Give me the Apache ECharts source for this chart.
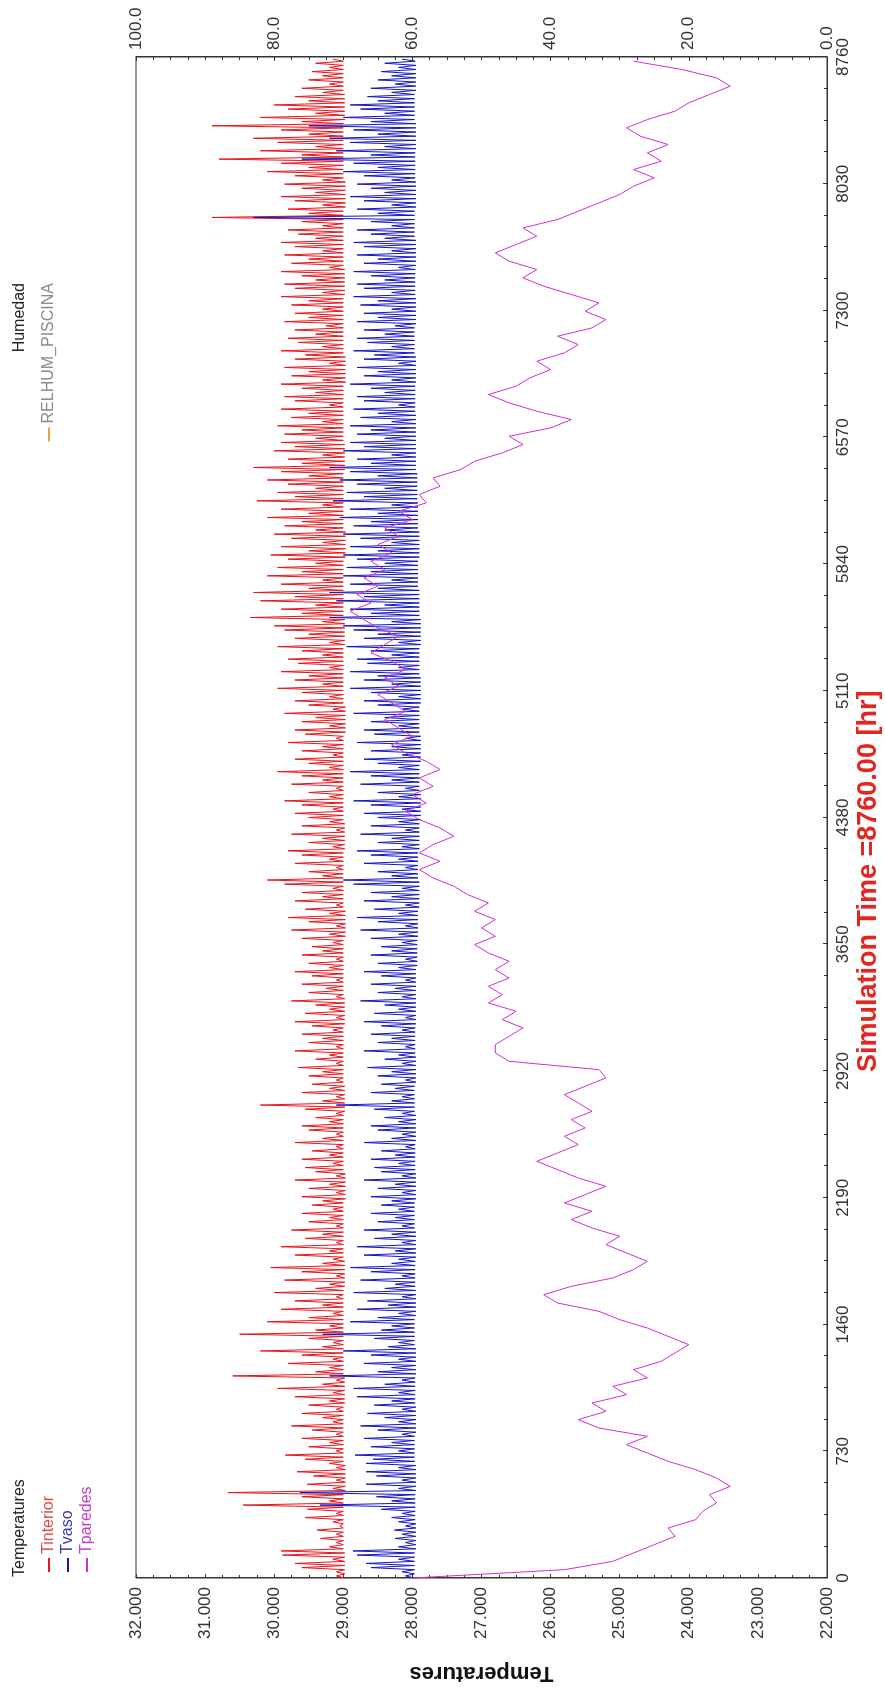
<!DOCTYPE html>
<html>
<head>
<meta charset="utf-8">
<script src="https://cdn.jsdelivr.net/npm/echarts/dist/echarts.min.js"></script>
<style>
  html, body { margin: 0; padding: 0; background: #fff; overflow: hidden; width: 885px; height: 1695px; }
  /* the plot is laid out landscape and turned a quarter turn, as in the source picture */
  #main { position: absolute; left: 0; top: 0; width: 1695px; height: 885px;
          transform-origin: 0 0; transform: translate(0px, 1695px) rotate(-90deg); }
</style>
</head>
<body>
<div id="main"></div>
<script>
// daily peak of Tinterior (one value per day, 365 days)
var tintPeak = [
  29.1, 29.1, 29.6, 29.7, 29.15, 29.88, 29.9, 29.2, 29.1, 29.33,
  29.1, 29.38, 29.05, 29.15, 29.55, 29.1, 29.52, 30.45, 29.2, 29.6,
  30.67, 29.15, 29.52, 29.1, 29.43, 29.67, 29.1, 29.2, 29.55, 29.84,
  29.1, 29.5, 29.2, 29.6, 29.1, 29.45, 29.75, 29.15, 29.3, 29.6,
  29.1, 29.5, 29.2, 29.7, 29.15, 29.95, 29.3, 29.1, 30.6, 29.4,
  29.2, 29.8, 29.15, 29.6, 30.2, 29.3, 29.15, 29.5, 30.5, 29.4,
  29.2, 30.1, 29.5, 29.15, 29.9, 29.3, 29.7, 29.1, 30.0, 29.4,
  29.2, 29.85, 29.1, 29.6, 30.05, 29.3, 29.15, 29.7, 29.2, 29.9,
  29.1, 29.55, 29.3, 29.75, 29.1, 29.5, 29.2, 29.6, 29.15, 29.45,
  29.3, 29.6, 29.1, 29.5, 29.2, 29.7, 29.1, 29.4, 29.55, 29.15,
  29.6, 29.2, 29.45, 29.1, 29.7, 29.3, 29.1, 29.5, 29.6, 29.2,
  29.4, 29.1, 29.55, 30.2, 29.3, 29.1, 29.6, 29.2, 29.45, 29.1,
  29.5, 29.3, 29.65, 29.1, 29.4, 29.2, 29.7, 29.1, 29.5, 29.3,
  29.6, 29.15, 29.45, 29.7, 29.1, 29.55, 29.2, 29.4, 29.75, 29.1,
  29.5, 29.25, 29.6, 29.1, 29.45, 29.7, 29.2, 29.5, 29.1, 29.6,
  29.3, 29.45, 29.15, 29.6, 29.2, 29.75, 29.1, 29.5, 29.8, 29.2,
  29.55, 29.1, 29.7, 29.3, 29.6, 29.15, 29.85, 30.1, 29.3, 29.5,
  29.1, 29.7, 29.2, 29.6, 29.8, 29.15, 29.5, 29.3, 29.75, 29.1,
  29.6, 29.2, 29.5, 29.7, 29.15, 29.6, 29.85, 29.2, 29.5, 29.1,
  29.75, 29.3, 29.6, 29.95, 29.2, 29.5, 29.7, 29.15, 29.6, 29.3,
  29.8, 29.1, 29.55, 29.7, 29.2, 29.6, 29.4, 29.85, 29.15, 29.5,
  29.7, 29.2, 29.6, 29.95, 29.3, 29.7, 29.5, 29.9, 29.2, 29.65,
  29.8, 29.3, 29.6, 29.95, 29.2, 29.7, 29.5, 29.85, 30.0, 29.3,
  30.35, 29.6, 29.9, 29.4, 30.2, 29.7, 30.3, 29.5, 29.9, 29.3,
  30.1, 29.6, 29.95, 29.4, 29.8, 30.05, 29.5, 29.9, 29.3, 29.75,
  30.0, 29.4, 29.85, 29.6, 30.1, 29.5, 29.9, 29.3, 30.25, 29.7,
  29.95, 29.4, 29.8, 30.1, 29.5, 29.9, 30.3, 29.6, 29.8, 29.3,
  30.0, 29.7, 29.9, 29.4, 29.85, 29.6, 29.95, 29.3, 29.75, 29.5,
  29.9, 29.2, 29.7, 29.85, 29.4, 29.6, 29.9, 29.3, 29.75, 29.5,
  29.85, 29.2, 29.7, 29.55, 29.9, 29.3, 29.65, 29.8, 29.4, 29.7,
  29.25, 29.85, 29.5, 29.7, 29.3, 29.75, 29.5, 29.9, 29.3, 29.7,
  29.85, 29.4, 29.6, 29.9, 29.2, 29.75, 29.5, 29.85, 29.3, 29.7,
  29.9, 29.4, 29.65, 29.8, 29.3, 29.6, 30.9, 29.5, 29.8, 29.3,
  29.7, 29.9, 29.4, 29.6, 29.85, 29.3, 29.7, 30.1, 29.5, 29.9,
  30.8, 29.6, 30.2, 29.4, 29.95, 30.3, 29.5, 29.9, 30.9, 29.6,
  30.2, 29.4, 29.8, 30.0, 29.5, 29.7, 29.3, 29.6, 29.2, 29.5,
  29.3, 29.45, 29.2, 29.4, 29.15
];
// weekly floor of Tinterior (53 weeks)
var tintLow = [
  28.98, 29.0, 29.0, 28.97, 29.0, 29.0, 28.98, 29.0, 29.0, 29.0,
  28.98, 29.0, 29.0, 28.97, 29.0, 29.0, 28.98, 29.0, 29.0, 28.98,
  29.0, 29.0, 28.97, 29.0, 29.0, 28.98, 29.0, 29.0, 29.0, 28.97,
  29.0, 29.0, 28.98, 29.0, 29.0, 28.97, 29.0, 29.0, 28.98, 29.0,
  29.0, 28.97, 29.0, 29.0, 28.98, 29.0, 29.0, 28.97, 29.0, 29.0,
  28.98, 29.0, 29.0
];
// daily peak of Tvaso (365 days)
var tvasoPeak = [
  28.1, 28.15, 28.6, 28.67, 28.2, 28.8, 28.86, 28.2, 28.1, 28.25,
  28.15, 28.26, 28.1, 28.2, 28.3, 28.15, 28.45, 29.34, 28.3, 28.52,
  29.63, 28.2, 28.67, 28.15, 28.52, 28.67, 28.2, 28.67, 28.57, 28.83,
  28.2, 28.6, 28.3, 28.7, 28.15, 28.5, 28.75, 28.2, 28.4, 28.65,
  28.15, 28.55, 28.3, 28.8, 28.2, 28.85, 28.4, 28.15, 29.2, 28.5,
  28.3, 28.7, 28.2, 28.6, 29.0, 28.35, 28.2, 28.55, 29.3, 28.45,
  28.3, 28.9, 28.5, 28.2, 28.8, 28.35, 28.65, 28.15, 28.85, 28.4,
  28.25, 28.75, 28.15, 28.6, 28.9, 28.3, 28.2, 28.7, 28.25, 28.8,
  28.15, 28.55, 28.3, 28.7, 28.15, 28.5, 28.25, 28.6, 28.2, 28.45,
  28.3, 28.6, 28.15, 28.5, 28.25, 28.7, 28.15, 28.45, 28.55, 28.2,
  28.6, 28.25, 28.45, 28.1, 28.7, 28.3, 28.15, 28.5, 28.6, 28.2,
  28.4, 28.15, 28.55, 29.1, 28.3, 28.15, 28.6, 28.25, 28.45, 28.1,
  28.5, 28.3, 28.65, 28.15, 28.4, 28.2, 28.7, 28.1, 28.5, 28.3,
  28.6, 28.15, 28.45, 28.7, 28.1, 28.55, 28.2, 28.4, 28.75, 28.15,
  28.5, 28.25, 28.6, 28.1, 28.45, 28.7, 28.2, 28.5, 28.1, 28.6,
  28.3, 28.45, 28.15, 28.6, 28.2, 28.75, 28.1, 28.5, 28.8, 28.2,
  28.55, 28.1, 28.7, 28.3, 28.6, 28.15, 28.85, 29.0, 28.3, 28.5,
  28.1, 28.7, 28.2, 28.6, 28.8, 28.15, 28.5, 28.3, 28.75, 28.1,
  28.6, 28.2, 28.5, 28.7, 28.15, 28.6, 28.85, 28.2, 28.5, 28.1,
  28.75, 28.3, 28.6, 28.9, 28.2, 28.5, 28.7, 28.15, 28.6, 28.3,
  28.8, 28.1, 28.55, 28.7, 28.2, 28.6, 28.4, 28.85, 28.15, 28.5,
  28.7, 28.2, 28.6, 28.9, 28.3, 28.7, 28.5, 28.9, 28.2, 28.65,
  28.8, 28.3, 28.6, 28.95, 28.2, 28.7, 28.5, 28.85, 29.0, 28.3,
  29.2, 28.6, 28.9, 28.4, 29.1, 28.7, 29.2, 28.5, 28.9, 28.3,
  29.0, 28.6, 28.95, 28.4, 28.8, 29.0, 28.5, 28.9, 28.3, 28.75,
  29.0, 28.4, 28.85, 28.6, 29.05, 28.5, 28.9, 28.3, 29.15, 28.7,
  28.95, 28.4, 28.8, 29.05, 28.5, 28.9, 29.2, 28.6, 28.8, 28.3,
  29.0, 28.7, 28.9, 28.4, 28.8, 28.6, 28.9, 28.3, 28.75, 28.5,
  28.85, 28.2, 28.7, 28.8, 28.4, 28.6, 28.9, 28.3, 28.7, 28.5,
  28.8, 28.2, 28.7, 28.55, 28.85, 28.3, 28.65, 28.8, 28.4, 28.7,
  28.25, 28.8, 28.5, 28.7, 28.3, 28.75, 28.5, 28.85, 28.3, 28.7,
  28.8, 28.4, 28.6, 28.85, 28.2, 28.7, 28.5, 28.8, 28.3, 28.7,
  28.85, 28.4, 28.6, 28.8, 28.3, 28.6, 30.3, 28.5, 28.8, 28.3,
  28.7, 28.9, 28.4, 28.6, 28.8, 28.3, 28.7, 29.0, 28.5, 28.85,
  29.6, 28.6, 29.1, 28.4, 28.9, 29.2, 28.5, 28.85, 29.5, 28.6,
  29.0, 28.4, 28.75, 28.9, 28.5, 28.65, 28.3, 28.6, 28.25, 28.5,
  28.3, 28.45, 28.2, 28.4, 28.15
];
// weekly floor of Tvaso (53 weeks)
var tvasoLow = [
  27.97, 27.95, 27.96, 27.95, 27.97, 27.95, 27.96, 27.95, 27.97, 27.95,
  27.96, 27.95, 27.97, 27.95, 27.96, 27.95, 27.97, 27.95, 27.96, 27.95,
  27.95, 27.93, 27.92, 27.9, 27.92, 27.9, 27.88, 27.9, 27.88, 27.9,
  27.88, 27.9, 27.88, 27.9, 27.92, 27.9, 27.92, 27.93, 27.95, 27.95,
  27.96, 27.95, 27.97, 27.95, 27.96, 27.95, 27.97, 27.95, 27.96, 27.95,
  27.97, 27.95, 27.96
];
// Tparedes, one value every 48 h
var tparStep = 48;
var tparedes = [
  28.0, 25.8, 25.1, 24.8, 24.5, 24.2, 24.3, 23.9, 23.8, 23.6,
  23.7, 23.4, 23.6, 23.9, 24.3, 24.6, 24.9, 24.6, 25.3, 25.6,
  25.2, 25.4, 24.9, 25.1, 24.6, 24.8, 24.4, 24.2, 24.0, 24.3,
  24.6, 25.0, 25.3, 25.9, 26.1, 25.7, 25.1, 24.8, 24.6, 24.9,
  25.2, 25.0, 25.4, 25.7, 25.4, 25.8, 25.5, 25.2, 25.6, 25.9,
  26.2, 25.9, 25.6, 25.8, 25.5, 25.7, 25.4, 25.6, 25.8, 25.5,
  25.2, 25.3, 26.6, 26.8, 26.8, 26.6, 26.4, 26.7, 26.5, 26.9,
  26.7, 26.9, 26.6, 26.8, 26.6, 26.9, 27.1, 26.8, 27.0, 26.8,
  27.1, 26.9, 27.2, 27.4, 27.7, 27.9, 27.6, 27.9, 27.7, 27.4,
  27.6, 27.9, 28.1, 27.8, 28.0, 27.7, 27.9, 27.6, 27.8, 28.1,
  28.3, 28.0, 28.2, 28.4, 28.1, 28.3, 28.5, 28.2, 28.4, 28.1,
  28.3, 28.6, 28.4, 28.2, 28.5, 28.7, 28.9, 28.6, 28.8, 28.5,
  28.7, 28.4, 28.6, 28.3, 28.5, 28.2, 28.4, 28.0, 28.2, 27.8,
  27.9, 27.6, 27.7, 27.3, 27.1, 26.7, 26.4, 26.6, 26.0, 25.7,
  26.2, 26.6, 26.9, 26.5, 26.3, 26.0, 26.2, 25.8, 25.6, 25.9,
  25.4, 25.2, 25.5, 25.3, 25.7, 26.1, 26.4, 26.2, 26.6, 26.8,
  26.5, 26.2, 26.4, 25.9, 25.6, 25.3, 25.0, 24.8, 24.5, 24.8,
  24.4, 24.6, 24.3, 24.7, 24.9, 24.6, 24.2, 24.0, 23.7, 23.4,
  23.6, 24.1, 24.8
];
var timeTicks = 730;

function spiky(peaks, lows) {
  var out = [];
  peaks.forEach(function (p, d) {
    out.push([d * 24, lows[Math.floor(d / 7)]]);
    out.push([d * 24 + 12, p]);
  });
  return out;
}

var font = "'Liberation Sans', Arial, sans-serif";
var axisColor = '#333';
var myChart = echarts.init(document.getElementById('main'));
var option = {
  animation: false,
  textStyle: { fontFamily: font },
  grid: { left: 117, right: 57, top: 136, bottom: 58, show: true, borderColor: axisColor, borderWidth: 1 },
  legend: [
    {
      orient: 'vertical', left: 118, top: 36, icon: 'rect', itemWidth: 14, itemHeight: 2, itemGap: 3,
      selectedMode: false,
      textStyle: { fontSize: 16, fontFamily: font, padding: [0, 0, 0, -1] },
      data: [
        { name: 'Tinterior', textStyle: { color: '#e04848' } },
        { name: 'Tvaso', textStyle: { color: '#3a3aa8' } },
        { name: 'Tparedes', textStyle: { color: '#c040c0' } }
      ]
    },
    {
      orient: 'vertical', right: 278, top: 36, icon: 'rect', itemWidth: 14, itemHeight: 2,
      selectedMode: false,
      textStyle: { fontSize: 16, fontFamily: font, color: '#8a8a8a', padding: [0, 0, 0, -1] },
      data: ['RELHUM_PISCINA']
    }
  ],
  graphic: [
    { type: 'text', left: 118, top: 12, style: { text: 'Temperatures', font: '16px ' + font, fill: '#222' } },
    { type: 'text', right: 283, top: 12, style: { text: 'Humedad', font: '16px ' + font, fill: '#222' } },
    { type: 'text', left: 623, top: 855, style: { text: 'Simulation Time =8760.00 [hr]', font: 'bold 27px ' + font, fill: '#e3261f' } }
  ],
  xAxis: {
    type: 'value', min: 0, max: 8760, interval: timeTicks,
    axisLine: { lineStyle: { color: axisColor } },
    axisTick: { inside: true, length: 4, lineStyle: { color: axisColor } },
    minorTick: { show: true, splitNumber: 4, length: 3, lineStyle: { color: axisColor } },
    splitLine: { show: false },
    axisLabel: { fontSize: 17, color: '#333', margin: 8, showMinLabel: true, showMaxLabel: true,
                 formatter: function (v) { return String(v); } }
  },
  yAxis: [
    {
      type: 'value', min: 22, max: 32, interval: 1, position: 'left',
      name: 'Temperatures', nameLocation: 'middle', nameGap: 84,
      nameTextStyle: { fontSize: 22, fontWeight: 'bold', color: '#111' },
      axisLine: { show: true, lineStyle: { color: axisColor } },
      axisTick: { inside: true, length: 4, lineStyle: { color: axisColor } },
      minorTick: { show: true, splitNumber: 4, length: 3, lineStyle: { color: axisColor } },
      splitLine: { show: false },
      axisLabel: { fontSize: 17, color: '#333', margin: 9, formatter: function (v) { return v.toFixed(3); } }
    },
    {
      type: 'value', min: 0, max: 100, interval: 20, position: 'right',
      axisLine: { show: true, lineStyle: { color: axisColor } },
      axisTick: { inside: true, length: 4, lineStyle: { color: axisColor } },
      minorTick: { show: true, splitNumber: 8, length: 3, lineStyle: { color: axisColor } },
      splitLine: { show: false },
      axisLabel: { fontSize: 17, color: '#333', margin: 7, formatter: function (v) { return v.toFixed(1); } }
    }
  ],
  series: [
    {
      name: 'Tinterior', type: 'line', yAxisIndex: 0, showSymbol: false, symbol: 'none',
      color: '#e8141a', lineStyle: { width: 1 }, data: spiky(tintPeak, tintLow)
    },
    {
      name: 'Tvaso', type: 'line', yAxisIndex: 0, showSymbol: false, symbol: 'none',
      color: '#1414c4', lineStyle: { width: 1 }, data: spiky(tvasoPeak, tvasoLow)
    },
    {
      name: 'Tparedes', type: 'line', yAxisIndex: 0, showSymbol: false, symbol: 'none',
      color: '#d02ed0', lineStyle: { width: 1 },
      data: tparedes.map(function (v, i) { return [i * tparStep, v]; })
    },
    {
      name: 'RELHUM_PISCINA', type: 'line', yAxisIndex: 1, showSymbol: false, symbol: 'none',
      color: '#f0a040', lineStyle: { width: 1 }, data: []
    }
  ]
};
myChart.setOption(option);
</script>
</body>
</html>
